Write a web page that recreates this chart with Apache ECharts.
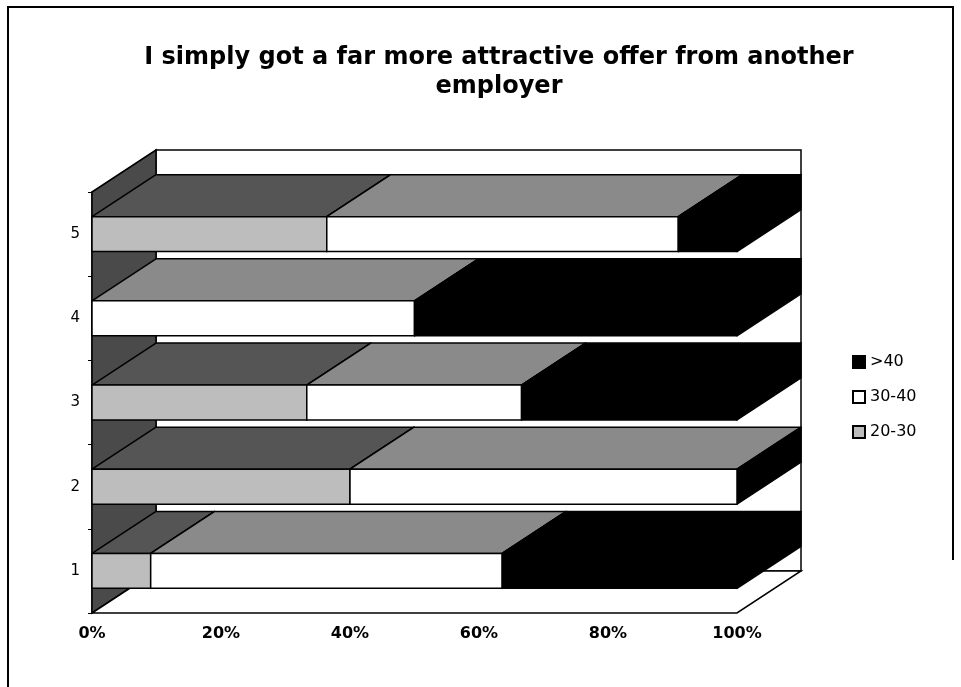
<!DOCTYPE html>
<html><head><meta charset="utf-8">
<script src="https://cdn.jsdelivr.net/npm/echarts@6/dist/echarts.min.js"></script>
<style>html,body{margin:0;padding:0;background:#fff}#c{width:961px;height:687px}</style>
</head><body><div id="c"></div>
<script>
// ---- data ----
const categories = ['1', '2', '3', '4', '5'];
const v2030 = [9.1, 40, 33.3, 0, 36.4];
const v3040 = [54.5, 60, 33.3, 50, 54.5];
const v40 = [36.4, 0, 33.4, 50, 9.1];
const seriesNames = ['20-30', '30-40', '>40'];
const legendOrder = ['>40', '30-40', '20-30'];
const xTickValues = [0, 20, 40, 60, 80, 100];
const titleText = 'I simply got a far more attractive offer from another\nemployer';

// ---- style ----
const DX = 64, DY = -42, BAR_FRAC = 0.415;
const FONT = 'DejaVu Sans';
const styles = [
  { front: '#bdbdbd', top: '#555555', side: '#111111' },
  { front: '#ffffff', top: '#8a8a8a', side: '#000000' },
  { front: '#000000', top: '#000000', side: '#000000' }
];
const valueSets = [v2030, v3040, v40];

function stackedData(k) {
  return categories.map((c, i) => {
    let s = 0;
    for (let j = 0; j < k; j++) s += valueSets[j][i];
    return [i, s, s + valueSets[k][i]];
  });
}

function barRender(k) {
  return function (params, api) {
    const cat = api.value(0), s = api.value(1), e = api.value(2);
    if (e - s <= 0) return null;
    const p0 = api.coord([s, cat]), p1 = api.coord([e, cat]);
    const h = api.size([0, 1])[1] * BAR_FRAC;
    const yT = p0[1] - h / 2, yB = p0[1] + h / 2;
    const x0 = p0[0], x1 = p1[0];
    const st = styles[k];
    const ln = { stroke: '#000', lineWidth: 1.5, lineJoin: 'round' };
    return {
      type: 'group',
      children: [
        { type: 'polygon', shape: { points: [[x0, yT], [x1, yT], [x1 + DX, yT + DY], [x0 + DX, yT + DY]] }, style: Object.assign({ fill: st.top }, ln) },
        { type: 'polygon', shape: { points: [[x1, yT], [x1 + DX, yT + DY], [x1 + DX, yB + DY], [x1, yB]] }, style: Object.assign({ fill: st.side }, ln) },
        { type: 'polygon', shape: { points: [[x0, yT], [x1, yT], [x1, yB], [x0, yB]] }, style: Object.assign({ fill: st.front }, ln) }
      ]
    };
  };
}

function wallRender(params, api) {
  const b = api.coord([0, 0]);
  const band = api.size([0, 1])[1];
  const x0 = b[0];
  const yBot = b[1] + band / 2;
  const yTop = api.coord([0, categories.length - 1])[1] - band / 2;
  const x1 = api.coord([100, 0])[0];
  const ln = { stroke: '#000', lineWidth: 1.5 };
  return {
    type: 'group',
    children: [
      { type: 'polygon', shape: { points: [[x0 + DX, yTop + DY], [x1 + DX, yTop + DY], [x1 + DX, yBot + DY], [x0 + DX, yBot + DY]] }, style: Object.assign({ fill: '#fff' }, ln) },
      { type: 'polygon', shape: { points: [[x0, yTop], [x0 + DX, yTop + DY], [x0 + DX, yBot + DY], [x0, yBot]] }, style: Object.assign({ fill: '#4a4a4a' }, ln) },
      { type: 'polygon', shape: { points: [[x0, yBot], [x1, yBot], [x1 + DX, yBot + DY], [x0 + DX, yBot + DY]] }, style: Object.assign({ fill: '#fff' }, ln) }
    ]
  };
}

const chart = echarts.init(document.getElementById('c'), null, { renderer: 'canvas' });
const series = [{
  type: 'custom', name: 'walls', silent: true, z: 1,
  renderItem: wallRender, data: [[0, 0]], encode: { x: 1, y: 0 }
}];
seriesNames.forEach((n, k) => {
  series.push({
    type: 'custom', name: n, z: 2 + k,
    renderItem: barRender(k),
    itemStyle: { color: styles[k].front, borderColor: '#000', borderWidth: 1.2 },
    data: stackedData(k),
    encode: { x: [1, 2], y: 0 }
  });
});

chart.setOption({
  animation: false,
  backgroundColor: '#fff',
  title: {
    text: titleText, left: 494, top: 38, textAlign: 'center',
    textStyle: { fontFamily: FONT, fontSize: 24, fontWeight: 'bold', color: '#000', lineHeight: 29 }
  },
  grid: { left: 92, right: 224, top: 192, bottom: 74 },
  xAxis: {
    type: 'value', min: 0, max: 100, interval: 20,
    axisLine: { show: false }, axisTick: { show: false }, splitLine: { show: false },
    axisLabel: { formatter: v => xTickValues.includes(v) ? v + '%' : '', fontFamily: FONT, fontSize: 16, fontWeight: 'bold', color: '#000', margin: 13 }
  },
  yAxis: {
    type: 'category', data: categories,
    axisLine: { show: true, lineStyle: { color: '#000', width: 1.5 } },
    axisTick: { show: true, length: 4, lineStyle: { color: '#000' } },
    axisLabel: { fontFamily: FONT, fontSize: 15, color: '#000', margin: 12 }
  },
  legend: {
    data: legendOrder, orient: 'vertical', left: 846, top: 344,
    itemWidth: 12, itemHeight: 12, itemGap: 19, icon: 'rect',
    padding: [10, 12, 10, 6],
    textStyle: { fontFamily: FONT, fontSize: 16, color: '#000' }
  },
  graphic: [{
    type: 'polyline', silent: true,
    shape: { points: [[8, 687], [8, 7], [953, 7], [953, 560]] },
    style: { stroke: '#000', lineWidth: 2, fill: null }
  }],
  series: series
});
</script>
</body></html>
